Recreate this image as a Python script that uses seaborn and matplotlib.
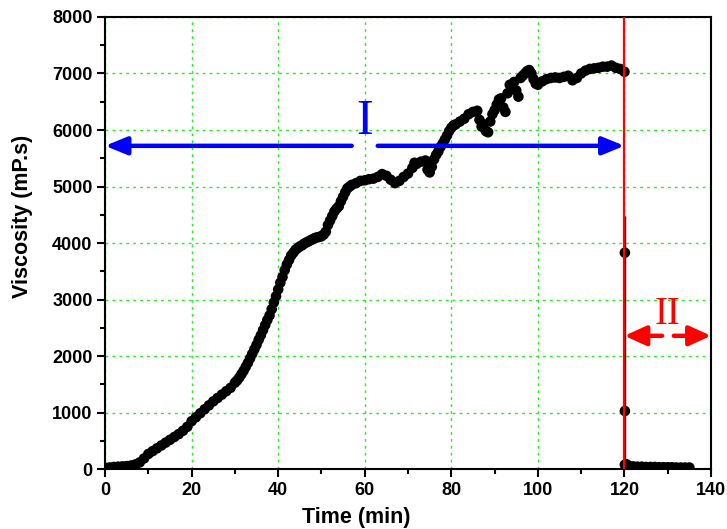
import matplotlib
matplotlib.use("Agg")
import matplotlib.pyplot as plt
from matplotlib.ticker import MultipleLocator
import pandas as pd
import seaborn as sns

# viscosity readings (mP.s) against time (min)
time_min = [
    0, 1, 2, 3, 4, 5, 6, 7, 8, 9, 10, 11, 12, 13, 14, 15, 16, 17, 18, 19,
    20, 21, 22, 23, 24, 25, 26, 27, 28, 29,
    30, 30.5, 31, 31.5, 32, 32.5, 33, 33.5, 34, 34.5, 35, 35.5, 36, 36.5,
    37, 37.5, 38, 38.5, 39, 39.5, 40, 40.5, 41, 41.5, 42, 42.5, 43, 43.5,
    44, 44.5, 45, 45.5, 46, 46.5, 47, 47.5, 48, 48.5, 49, 49.5, 50, 50.5,
    51, 51.5, 52, 52.5, 53, 53.5, 54, 54.5, 55, 55.5, 56, 56.5,
    57, 58, 59, 60, 61, 62, 63, 64, 65, 66, 67, 68, 69, 70, 71, 71.5, 72,
    73, 74, 74.5, 75, 75.5, 76, 76.5, 77, 77.5, 78, 78.5, 79, 79.5, 80,
    80.5, 81, 82, 83, 84, 85, 86, 86.5, 87, 87.5, 88, 88.5, 89, 89.5, 90,
    90.5, 91, 91.5, 92, 92.5, 93, 93.5, 94, 94.5, 95, 95.5, 96, 96.5, 97,
    97.5, 98, 98.5, 99, 99.5, 100, 101, 102, 103, 104, 105, 106, 107, 108,
    109, 110, 111, 112, 113, 114, 115, 116, 117, 118, 119, 120,
    120.1, 120.1, 120.1, 120.4, 121, 122, 123, 124, 125, 126, 127, 128,
    129, 130, 131, 132, 133, 134, 135,
]
viscosity = [
    25, 30, 40, 45, 50, 55, 65, 85, 120, 190, 270, 320, 370, 420, 470, 520,
    570, 620, 680, 750, 850, 920, 990, 1060, 1130, 1200, 1260, 1320, 1380,
    1440,
    1530, 1570, 1620, 1680, 1740, 1810, 1880, 1960, 2040, 2120, 2200, 2290,
    2370, 2460, 2550, 2640, 2720, 2830, 2950, 3060, 3180, 3300, 3400, 3520,
    3620, 3700, 3780, 3830, 3880, 3910, 3940, 3960, 3990, 4010, 4030, 4050,
    4070, 4090, 4100, 4110, 4120, 4150, 4200, 4320, 4400, 4480, 4560, 4610,
    4650, 4740, 4820, 4900, 4970, 5000,
    5030, 5060, 5100, 5110, 5130, 5140, 5170, 5220, 5190, 5120, 5060, 5100,
    5170, 5230, 5330, 5420, 5400, 5440, 5460, 5300, 5250, 5350, 5480, 5560,
    5620, 5700, 5760, 5830, 5900, 5980, 6040, 6080, 6100, 6150, 6200, 6280,
    6320, 6340, 6180, 6060, 6100, 5980, 5960, 6150, 6280, 6350, 6450, 6540,
    6560, 6400, 6320, 6650, 6800, 6780, 6850, 6700, 6590, 6920, 6960, 7000,
    7040, 7060, 7000, 6900, 6820, 6800, 6860, 6900, 6920, 6930, 6920, 6940,
    6960, 6880, 6920, 7000, 7050, 7080, 7090, 7100, 7120, 7120, 7140, 7100,
    7080, 7030,
    3830, 1030, 80, 90, 60, 50, 45, 45, 40, 40, 40, 35, 35, 35, 35, 30, 30,
    30, 30,
]

# stage boundary, trace spike and stage arrows
switch_time = 120
spike_top = 4480
stage_labels = ["I", "II"]
stage_one_arrows = [(57, 0), (63, 120)]
stage_two_arrows = [(128.7, 120), (131.4, 140)]
stage_one_y = 5720
stage_two_y = 2360

df = pd.DataFrame({"Time (min)": time_min, "Viscosity (mP.s)": viscosity})

sns.set_theme(style="white", rc={"text.color": "black", "axes.labelcolor": "black",
                                 "xtick.color": "black", "ytick.color": "black"})
plt.rcParams["font.family"] = ["Liberation Sans", "DejaVu Sans"]

fig = plt.figure(figsize=(7.27, 5.29), dpi=100)
ax = fig.add_axes([0.1445, 0.113, 0.8335, 0.855])

ax.grid(True, which="major", color="#22f022", linestyle=(0, (2, 3)), linewidth=1.0)
ax.set_axisbelow(True)

ax.vlines(switch_time + 0.2, 0, spike_top, color="black", linewidth=1.0, zorder=3)
sns.scatterplot(data=df, x="Time (min)", y="Viscosity (mP.s)", ax=ax,
                color="black", s=58, edgecolor="none", linewidth=0, zorder=4)
ax.axvline(switch_time, color="#ff0000", linewidth=1.6, zorder=5)

for start, end in stage_one_arrows:
    ax.annotate("", xy=(end, stage_one_y), xytext=(start, stage_one_y),
                arrowprops=dict(arrowstyle="-|>,head_length=1.1,head_width=0.45",
                                color="#0000ff", lw=3.2, shrinkA=0, shrinkB=0),
                zorder=6)
for start, end in stage_two_arrows:
    ax.annotate("", xy=(end, stage_two_y), xytext=(start, stage_two_y),
                arrowprops=dict(arrowstyle="-|>,head_length=1.1,head_width=0.5",
                                color="#ff0000", lw=3.2, shrinkA=0, shrinkB=0),
                zorder=6)

ax.text(60, 6150, stage_labels[0], color="#0000ff", fontsize=36,
        family="Liberation Serif", ha="center", va="center", zorder=6)
ax.text(130, 2740, stage_labels[1], color="#ff0000", fontsize=28,
        family="Liberation Serif", ha="center", va="center", zorder=6)

ax.set_xlim(0, 140)
ax.set_ylim(0, 8000)
ax.xaxis.set_major_locator(MultipleLocator(20))
ax.xaxis.set_minor_locator(MultipleLocator(10))
ax.yaxis.set_major_locator(MultipleLocator(1000))
ax.yaxis.set_minor_locator(MultipleLocator(500))
ax.tick_params(which="both", direction="out", top=False, right=False,
               bottom=True, left=True, color="black", width=1.5)
ax.tick_params(which="major", length=6, labelsize=13, pad=3)
ax.tick_params(which="minor", length=3.5)
for lab in ax.get_xticklabels() + ax.get_yticklabels():
    lab.set_fontweight("bold")

for spine in ax.spines.values():
    spine.set_color("black")
    spine.set_linewidth(1.5)

ax.set_xlabel("Time (min)", fontsize=15.5, fontweight="bold")
ax.set_ylabel("Viscosity (mP.s)", fontsize=15.5, fontweight="bold")
ax.xaxis.set_label_coords(0.414, -0.107)
ax.xaxis.label.set_va("center")
ax.yaxis.set_label_coords(-0.137, 0.558)
ax.yaxis.label.set_va("center")

fig.savefig("out.png", dpi=100)
